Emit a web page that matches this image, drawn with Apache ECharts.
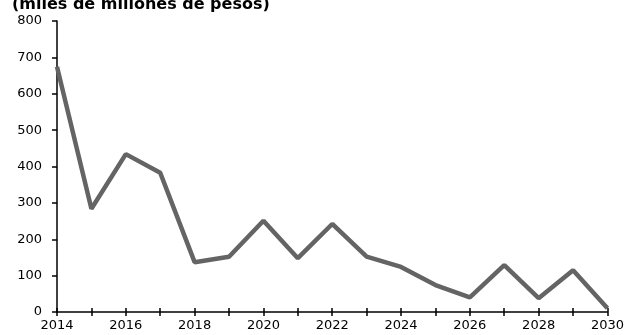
<!DOCTYPE html>
<html><head><meta charset="utf-8">
<script src="https://cdn.jsdelivr.net/npm/echarts@6/dist/echarts.min.js"></script>
<style>html,body{margin:0;padding:0;background:#fff}#c{width:627px;height:335px}</style>
</head><body><div id="c"></div>
<script>
const years = [2014,2015,2016,2017,2018,2019,2020,2021,2022,2023,2024,2025,2026,2027,2028,2029,2030];
const values = [674,284,434,383,137,152,251,148,242,152,124,74,40,129,38,115,10];
const titleText = '(miles de millones de pesos)';
const yMax = 800, yStep = 100;

const chart = echarts.init(document.getElementById('c'));
const font = 'DejaVu Sans, Verdana, sans-serif';
chart.setOption({
  animation:false,
  title:{text:titleText,left:7,top:-8,textStyle:{fontFamily:font,fontSize:16,fontWeight:'bold',color:'#000'}},
  grid:{left:57,right:19,top:21,bottom:23},
  xAxis:[{
    type:'value',min:2014,max:2030,interval:1,
    axisLine:{lineStyle:{color:'#000',width:1.5}},
    axisTick:{show:true,length:4,lineStyle:{color:'#000',width:1.5}},
    axisLabel:{fontFamily:font,fontSize:13,color:'#000',margin:7,formatter:v=>v%2===0?String(v):''},
    splitLine:{show:false}
  },{
    type:'value',min:2014,max:2030,interval:1,position:'bottom',
    axisLine:{show:false},
    axisTick:{show:true,inside:true,length:4,lineStyle:{color:'#000',width:1.5}},
    axisLabel:{show:false},splitLine:{show:false}
  }],
  yAxis:{
    type:'value',min:0,max:yMax,interval:yStep,
    axisLine:{show:true,lineStyle:{color:'#000',width:1.5}},
    axisTick:{show:true,length:5,lineStyle:{color:'#000',width:1.5}},
    axisLabel:{fontFamily:font,fontSize:13,color:'#000',margin:15},
    splitLine:{show:false}
  },
  series:[{
    type:'line',data:years.map((y,i)=>[y,values[i]]),
    showSymbol:false,lineStyle:{color:'#646464',width:4.5},
    z:1
  }]
});
</script></body></html>
